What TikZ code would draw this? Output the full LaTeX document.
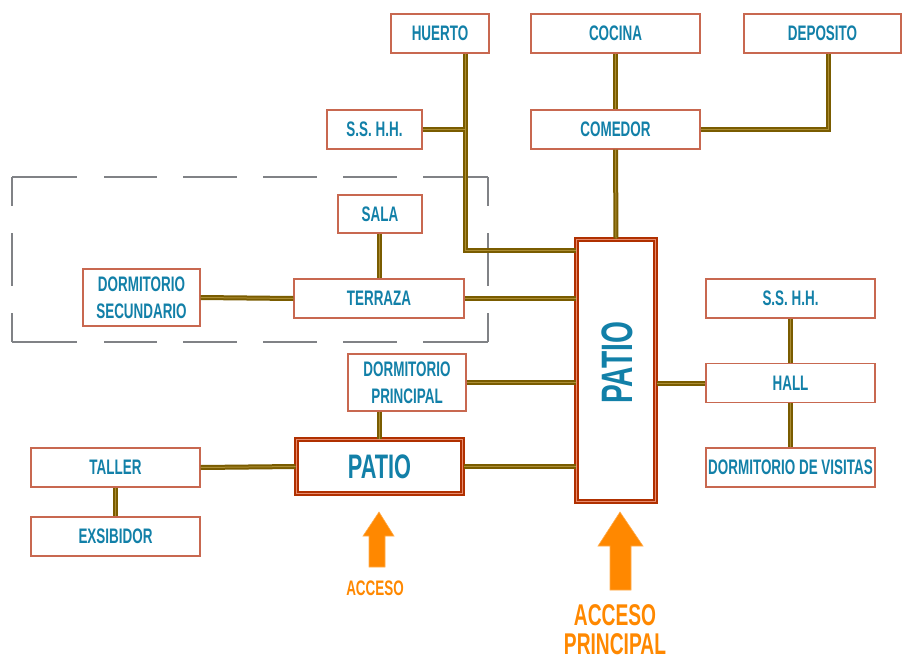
\documentclass[tikz,border=0pt]{standalone}
\usepackage{fontspec}
\setmainfont{Liberation Sans}[FakeStretch=0.64]
\definecolor{labelblue}{RGB}{18,128,168}
\definecolor{roomline}{RGB}{200,104,80}
\definecolor{wiredark}{RGB}{122,92,0}
\definecolor{wirelight}{RGB}{172,142,52}
\definecolor{patioline}{RGB}{176,48,0}
\definecolor{patiolight}{RGB}{232,140,110}
\definecolor{accesso}{RGB}{255,136,0}
\definecolor{dashgray}{RGB}{128,130,134}
\tikzset{
  room/.style={draw=roomline, line width=1.1pt, fill=white, text=labelblue,
    font=\bfseries\fontsize{21}{27}\selectfont, inner sep=0pt, align=center,
    minimum height=39},
  patiobox/.style={draw=patioline, line width=2pt, double=patiolight, double distance=0.8pt,
    fill=white, text=labelblue, inner sep=0pt},
  wire/.style={draw=wiredark, line width=2pt, double=wirelight, double distance=1pt},
  zone/.style={draw=dashgray, line width=1.4pt},
  arrowfill/.style={fill=accesso, draw=accesso!70!white, line width=0.6pt},
  accesslabel/.style={text=accesso, font=\bfseries, align=center, inner sep=0pt},
}
\begin{document}
\begin{tikzpicture}[x=1pt,y=-1pt]
\useasboundingbox (0,0) rectangle (902,661);

% dashed zone around the living area
\draw[zone, dash pattern=on 65 off 27 on 53 off 26 on 54 off 26 on 54 off 26 on 54 off 26 on 65 off 100] (12,177) -- (488,177);
\draw[zone, dash pattern=on 65 off 27 on 53 off 26 on 54 off 26 on 54 off 26 on 54 off 26 on 65 off 100] (12,342) -- (488,342);
\draw[zone, dash pattern=on 29 off 27 on 53 off 27 on 29 off 100] (12,177) -- (12,342);
\draw[zone, dash pattern=on 29 off 27 on 53 off 27 on 29 off 100] (488,177) -- (488,342);

% rooms
\node[room, minimum width=98] (huerto) at (440,33.5) {HUERTO};
\node[room, minimum width=169] (cocina) at (615.5,33.5) {COCINA};
\node[room, minimum width=157] (deposito) at (822.5,33.5) {DEPOSITO};
\node[room, minimum width=95] (sshhA) at (374.5,129.5) {S.S. H.H.};
\node[room, minimum width=169] (comedor) at (615.5,129.5) {COMEDOR};
\node[room, minimum width=84, minimum height=38] (sala) at (380,214) {SALA};
\node[room, minimum width=170] (terraza) at (379,298.5) {TERRAZA};
\node[room, minimum width=117, minimum height=57] (dsec) at (141.5,297.5) {DORMITORIO\\SECUNDARIO};
\node[room, minimum width=118, minimum height=57] (dprin) at (407,382.5) {DORMITORIO\\PRINCIPAL};
\node[room, minimum width=169] (sshhB) at (790.5,298.5) {S.S. H.H.};
\node[room, minimum width=169] (hall) at (790.5,383) {HALL};
\node[room, minimum width=169] (dvis) at (790.5,467.5) {DORMITORIO DE VISITAS};
\node[room, minimum width=169] (taller) at (115.5,467.5) {TALLER};
\node[room, minimum width=169] (exsib) at (115.5,536.5) {EXSIBIDOR};

% courtyards
\node[patiobox, minimum width=166, minimum height=54, font=\bfseries\fontsize{34}{34}\selectfont] (patioS) at (379.5,466.5) {PATIO};
\node[patiobox, minimum width=79, minimum height=262] (patioB) at (616,370.5) {};
\node[text=labelblue, font=\bfseries\fontsize{44}{44}\selectfont, rotate=90, inner sep=0pt] (patioBtxt) at (617,363) {PATIO};

% connections
\draw[wire] (huerto.south -| 465,0) |- (patioB.west |- 0,250);
\draw[wire] (sshhA.east) -- (sshhA.east -| 465,0);
\draw[wire] (cocina.south) -- (comedor.north);
\draw[wire] (comedor.east) -| (deposito.south -| 828,0);
\draw[wire] (comedor.south) -- (patioB.north);
\draw[wire] (sala.south -| 379,0) -- (terraza.north);
\draw[wire] (dsec.east) -- (terraza.west);
\draw[wire] (terraza.east) -- (patioB.west |- terraza.east);
\draw[wire] (dprin.east) -- (patioB.west |- dprin.east);
\draw[wire] (dprin.south -| patioS.north) -- (patioS.north);
\draw[wire] (patioS.east) -- (patioB.west |- patioS.east);
\draw[wire] (taller.east) -- (patioS.west);
\draw[wire] (taller.south) -- (exsib.north);
\draw[wire] (patioB.east |- hall.west) -- (hall.west);
\draw[wire] (sshhB.south) -- (hall.north);
\draw[wire] (hall.south) -- (dvis.north);

% entrance arrows
\draw[arrowfill] (379,512) -- (394,536) -- (385,536) -- (385,567) -- (369,567) -- (369,536) -- (363,536) -- cycle;
\node[accesslabel, font=\bfseries\fontsize{21}{21}\selectfont] (accesoS) at (375,588) {ACCESO};
\draw[arrowfill] (620,512) -- (643,546) -- (631,546) -- (631,590) -- (610,590) -- (610,546) -- (598,546) -- cycle;
\node[accesslabel, font=\bfseries\fontsize{30}{29}\selectfont] (accesoB) at (615,630) {ACCESO\\PRINCIPAL};
\end{tikzpicture}
\end{document}
